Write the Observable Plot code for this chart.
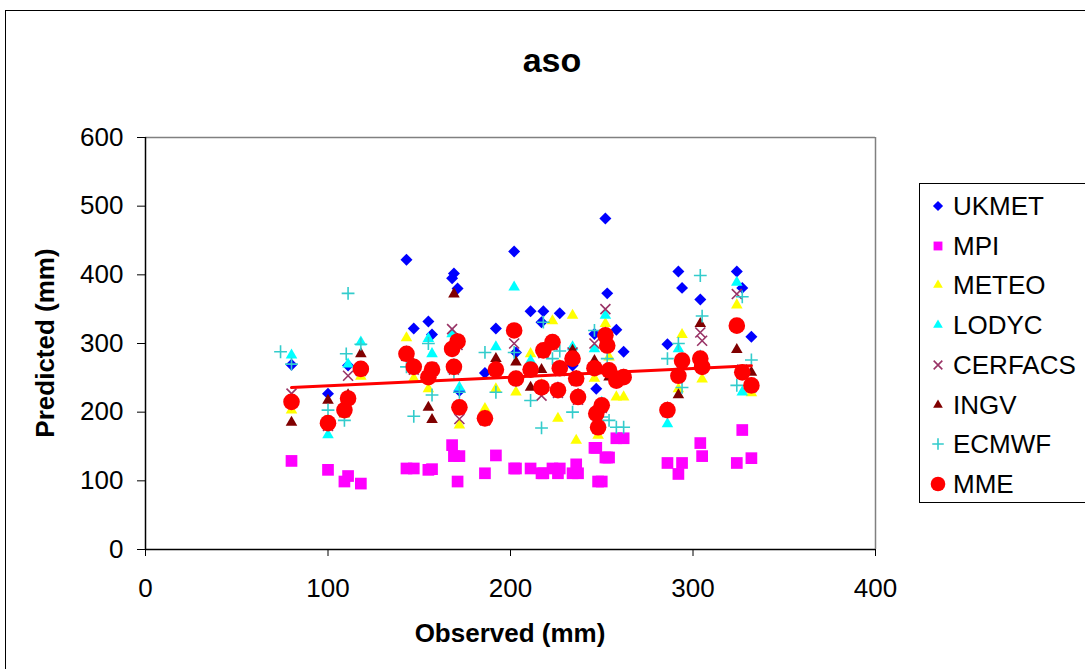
<!DOCTYPE html>
<html><head><meta charset="utf-8">
<script src="https://cdn.jsdelivr.net/npm/d3@7"></script>
<script src="https://cdn.jsdelivr.net/npm/@observablehq/plot@0.6"></script>
<style>
body{margin:0;background:#fff;}
#wrap{position:relative;width:1085px;height:669px;overflow:hidden;font-family:Arial,"Liberation Sans",sans-serif;color:#000;}
#border{position:absolute;left:5px;top:10px;width:1200px;height:800px;border:1.5px solid #000;}
#chart{position:absolute;left:0;top:0;}
.t{position:absolute;white-space:nowrap;}
#title{left:552px;top:60px;transform:translate(-50%,-50%);font-weight:bold;font-size:34px;}
#xt{left:510px;top:633px;transform:translate(-50%,-50%);font-weight:bold;font-size:26px;}
#yt{left:45px;top:343px;transform:translate(-50%,-50%) rotate(-90deg);font-weight:bold;font-size:26px;}
#legend{position:absolute;left:919px;top:183px;width:300px;height:318px;border:1px solid #000;background:#fff;}
.li{position:absolute;left:0;height:30px;}
.li svg{position:absolute;left:8px;top:0;}
.li span{position:absolute;left:33px;top:50%;transform:translateY(-50%);font-size:26px;white-space:nowrap;}
</style></head>
<body>
<div id="wrap">
  <div id="border"></div>
  <div id="chart"></div>
  <div class="t" id="title">aso</div>
  <div class="t" id="xt">Observed (mm)</div>
  <div class="t" id="yt">Predicted (mm)</div>
  <div id="legend"></div>
</div>
<script>
const seriesNames = ["UKMET","MPI","METEO","LODYC","CERFACS","INGV","ECMWF","MME"];
const xTicks = [0,100,200,300,400];
const yTicks = [0,100,200,300,400,500,600];

const observed = [74,80,100,109,110,111,118,143,147,155,157,168,169,171,172,186,192,202,203,211,217,218,223,226,227,234,236,237,246,247,248,250,252,253,254,258,262,286,292,294,304,305,324,327,332];
const ukmet   = [null,269,227,205,null,268,263,422,322,332,313,395,402,380,231,257,322,434,287,347,331,347,300,236,344,268,250,225,314,234,180,212,482,373,262,320,288,299,405,381,364,268,405,381,310];
const mpi     = [null,129,116,99,null,107,96,118,118,116,117,152,136,99,136,111,137,118,118,118,111,111,118,111,118,111,124,111,148,148,99,99,134,134,134,162,162,126,110,126,155,136,126,174,133];
const meteo   = [null,203,188,197,null,222,252,308,249,234,258,295,262,300,181,205,234,316,229,285,240,288,333,191,268,341,159,220,249,200,166,208,329,300,280,222,222,205,234,313,280,248,356,260,228];
const lodyc   = [null,283,167,206,null,270,302,288,268,307,285,314,270,305,236,192,295,382,252,275,238,292,305,232,265,295,252,224,292,202,180,214,341,295,258,248,252,183,292,278,282,270,389,229,240];
const cerfacs = [null,227,180,200,null,253,260,282,262,250,265,321,262,298,190,188,260,300,248,262,224,286,298,228,260,287,246,218,300,196,176,206,350,300,262,244,250,200,255,272,316,304,372,262,236];
const ingv    = [null,185,217,208,null,225,285,280,270,207,189,288,372,306,210,194,278,320,273,236,262,292,300,235,262,290,252,226,275,200,182,210,315,298,251,248,254,206,225,276,329,265,291,256,258];
const ecmwf   = [288,270,203,188,285,373,299,266,194,300,225,290,258,300,229,287,229,287,246,217,177,331,278,230,289,200,248,220,319,193,178,193,310,278,188,178,178,278,300,236,399,340,239,368,276];
const mme     = [null,215,184,203,null,220,263,285,266,251,262,292,266,303,207,191,262,319,249,262,236,290,302,232,264,278,249,222,264,198,178,210,312,297,261,246,251,203,253,275,278,266,326,258,239];

const seriesValues = [ukmet, mpi, meteo, lodyc, cerfacs, ingv, ecmwf, mme];
const styles = {
  UKMET:   {symbol:"diamond2", fill:"#0000FF", r:5.4, lr:4.6},
  MPI:     {symbol:"square",   fill:"#FF00FF", r:6.6, lr:5.0},
  METEO:   {symbol:"triangle", fill:"#FFFF00", r:4.3, lr:3.6},
  LODYC:   {symbol:"triangle", fill:"#00FFFF", r:4.3, lr:3.6},
  CERFACS: {symbol:"times",    stroke:"#993366", r:4.6, lr:4.0, sw:1.6},
  INGV:    {symbol:"triangle", fill:"#800000", r:4.3, lr:3.6},
  ECMWF:   {symbol:"plus",     stroke:"#33CCCC", r:4.2, lr:3.8, sw:1.6},
  MME:     {symbol:"circle",   fill:"#FF0000", r:8.3, lr:7.3}
};

const rows = {};
seriesNames.forEach((name, k) => {
  rows[name] = [];
  seriesValues[k].forEach((v, i) => { if (v != null) rows[name].push({observed: observed[i], predicted: v}); });
});

const FONT = 'Arial, "Liberation Sans", sans-serif';
const dotMark = name => {
  const s = styles[name];
  const o = {x:"observed", y:"predicted", symbol: s.symbol, r: s.r};
  if (s.stroke) { o.stroke = s.stroke; o.fill = "none"; o.strokeWidth = s.sw; }
  else { o.fill = s.fill; o.stroke = "none"; }
  return Plot.dot(rows[name], o);
};

const chart = Plot.plot({
  width: 1085, height: 669,
  marginLeft: 145, marginRight: 210, marginTop: 137, marginBottom: 120,
  style: {background: "transparent", fontFamily: FONT, fontSize: "26px", color: "#000", overflow: "visible"},
  x: {domain: [0, 400]},
  y: {domain: [0, 600]},
  marks: [
    Plot.ruleY([600], {stroke: "#808080", strokeWidth: 1.5}),
    Plot.ruleX([400], {stroke: "#808080", strokeWidth: 1.5}),
    Plot.axisX({ticks: xTicks, tickSize: 7, tickPadding: 22, tickFormat: d => String(d), label: null, fontSize: 26}),
    Plot.axisY({ticks: yTicks, tickSize: 8, tickPadding: 14, tickFormat: d => String(d), label: null, fontSize: 26}),
    ...seriesNames.filter(n => n !== "MME").map(dotMark),
    Plot.linearRegressionY(rows.MME, {x: "observed", y: "predicted", stroke: "#FF0000", strokeWidth: 3, ci: 0}),
    dotMark("MME"),
    Plot.ruleX([0], {stroke: "#000", strokeWidth: 1.5}),
    Plot.ruleY([0], {stroke: "#000", strokeWidth: 1.5})
  ]
});
document.getElementById("chart").appendChild(chart);

// legend
const symMap = {diamond2: d3.symbolDiamond2, square: d3.symbolSquare, triangle: d3.symbolTriangle, times: d3.symbolTimes, plus: d3.symbolPlus, circle: d3.symbolCircle};
const legend = document.getElementById("legend");
seriesNames.forEach((name, k) => {
  const s = styles[name];
  const cy = 22 + k * 39.7;
  const item = document.createElement("div");
  item.className = "li";
  item.style.top = (cy - 15) + "px";
  const path = d3.symbol(symMap[s.symbol], Math.PI * s.lr * s.lr)();
  const paint = s.stroke ? `fill="none" stroke="${s.stroke}" stroke-width="${s.sw}"` : `fill="${s.fill}"`;
  item.innerHTML = `<svg width="20" height="30"><path transform="translate(10,15)" d="${path}" ${paint}/></svg><span>${name}</span>`;
  legend.appendChild(item);
});
</script>
</body></html>
